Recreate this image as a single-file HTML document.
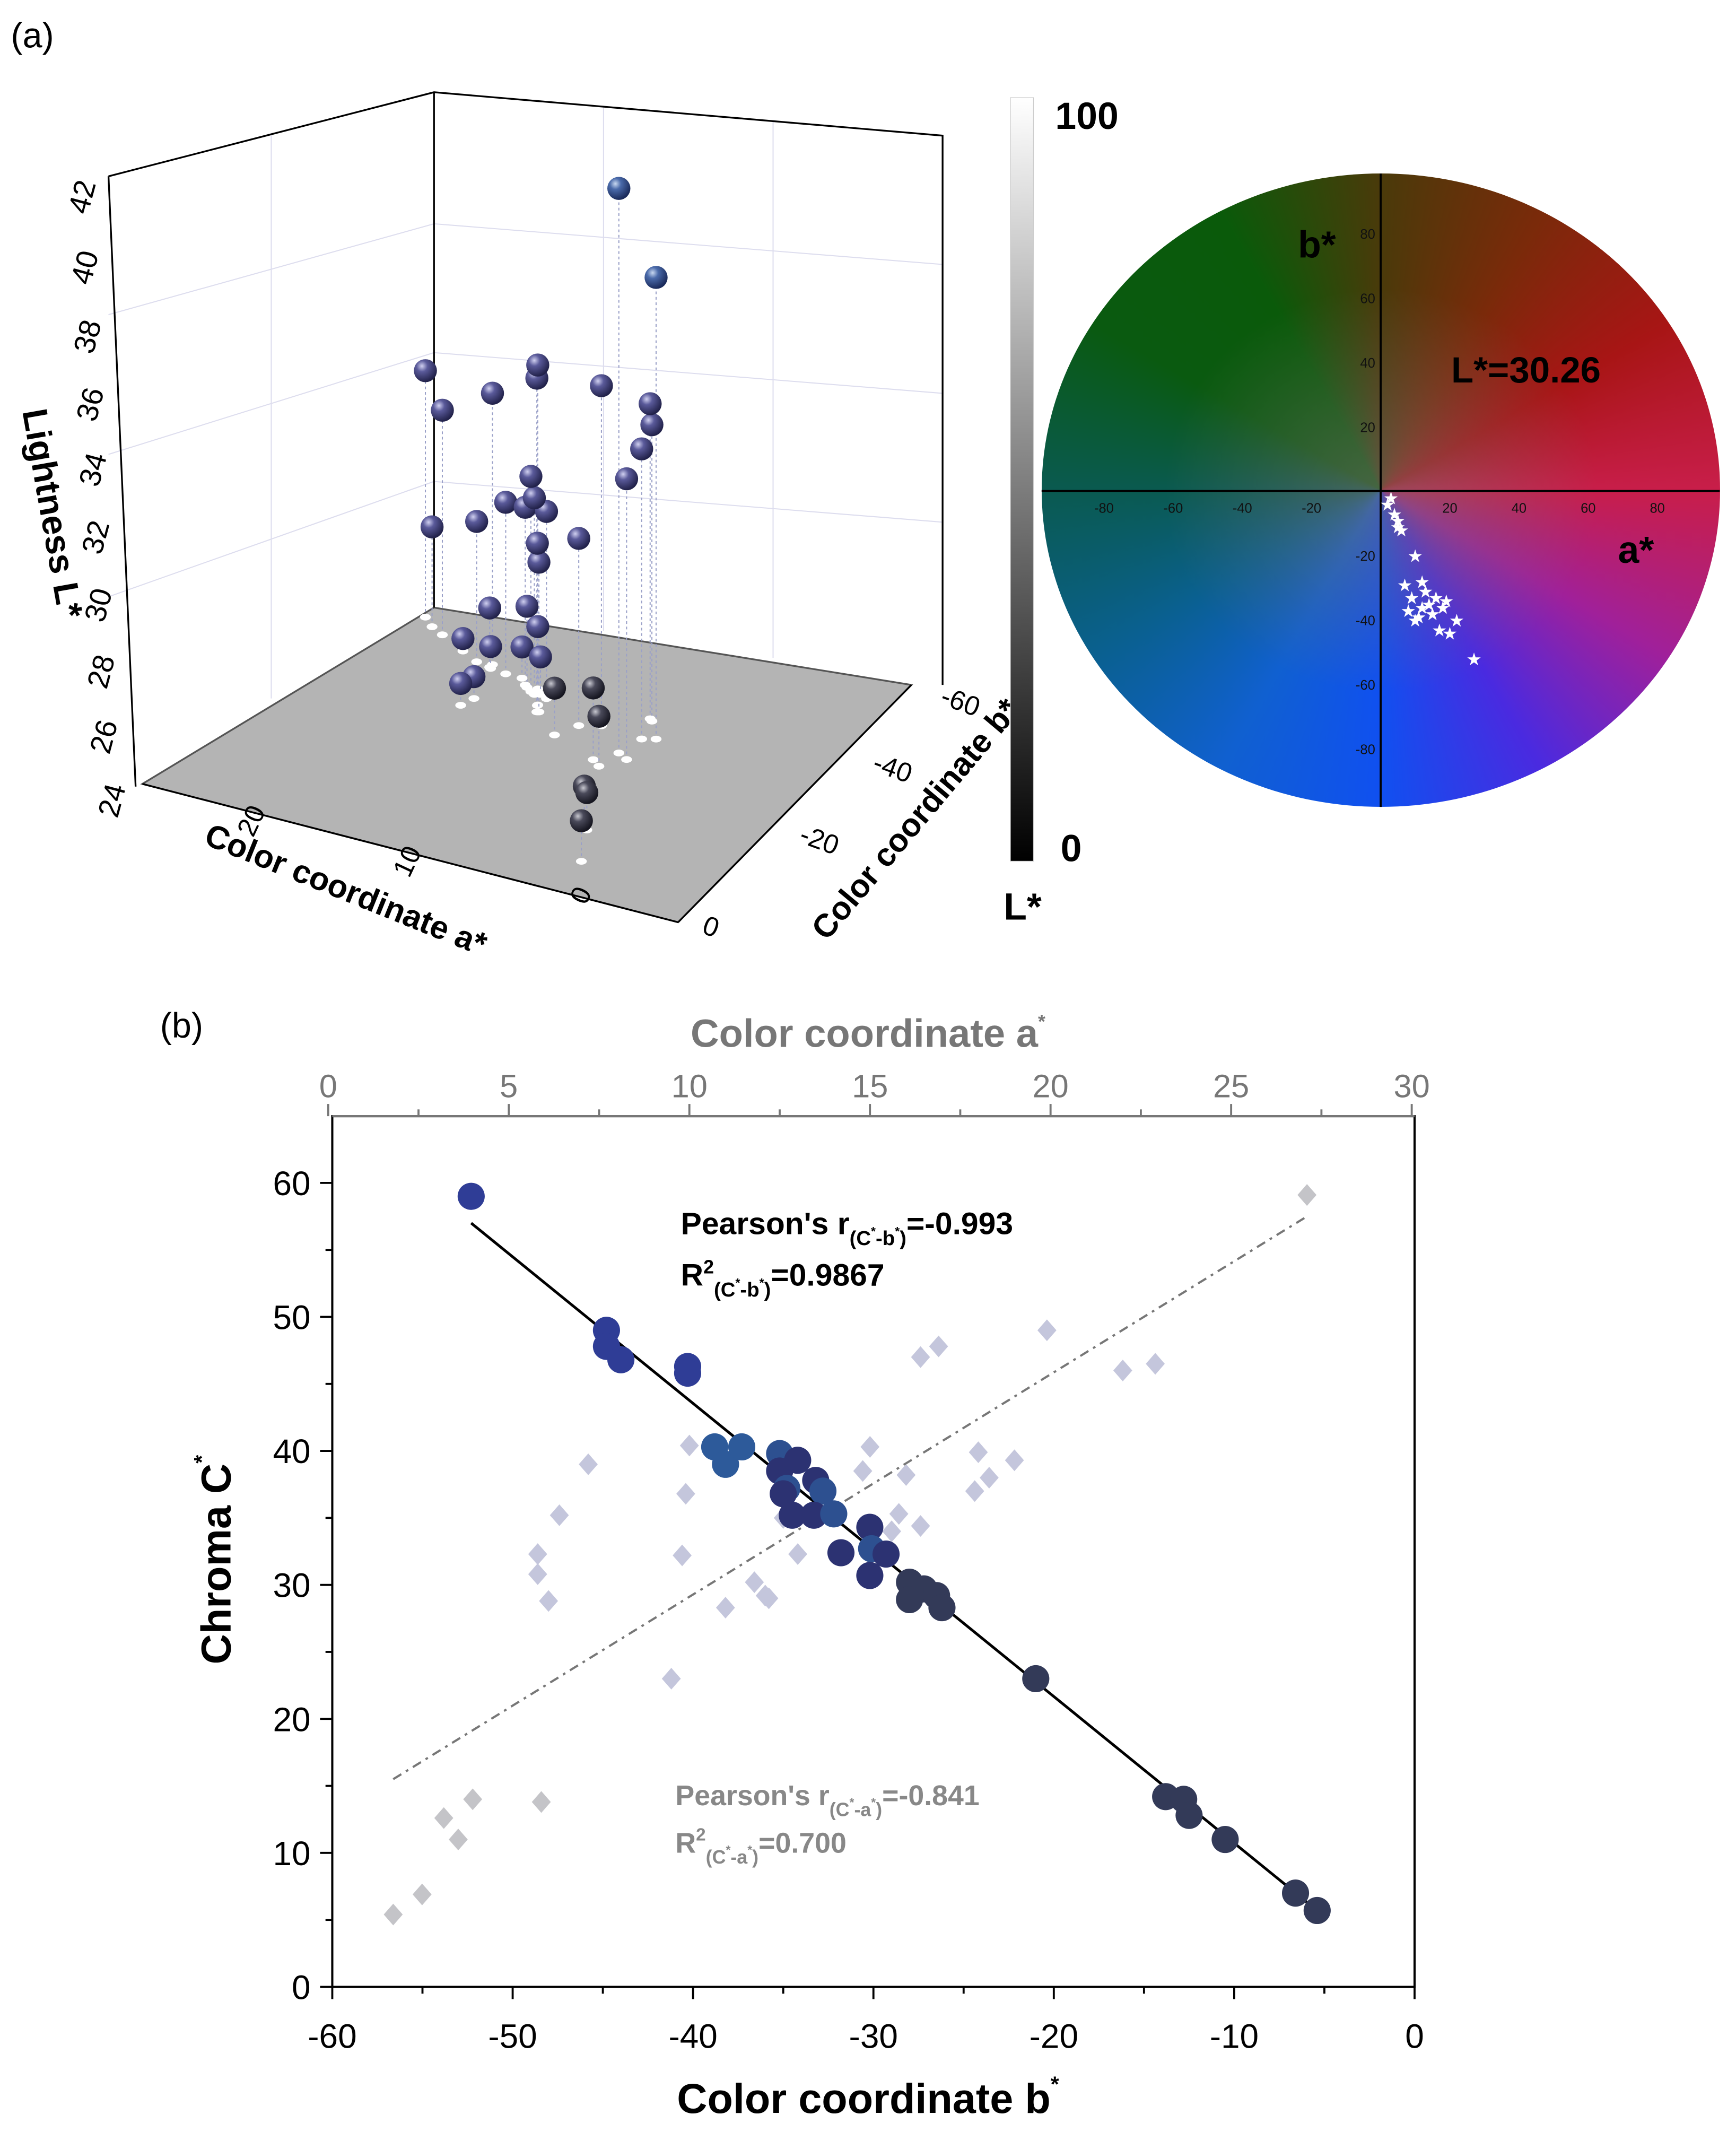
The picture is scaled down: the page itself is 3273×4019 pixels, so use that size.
<!DOCTYPE html>
<html><head><meta charset="utf-8">
<style>
html,body{margin:0;padding:0;background:#fff;}
#wrap{position:relative;width:3273px;height:4019px;overflow:hidden;font-family:"Liberation Sans",sans-serif;}
#wheel{position:absolute;left:1964px;top:327px;width:1279px;height:1194px;border-radius:50%;
background:radial-gradient(ellipse at center,rgba(120,110,110,0.55),rgba(120,110,110,0) 45%),
conic-gradient(from 0deg,#4a3a0a 0deg,#7a2a0a 30deg,#a81515 60deg,#c81e4a 90deg,#a0209a 120deg,#4a2ae0 150deg,#1050f0 180deg,#1060d0 210deg,#0a6090 240deg,#0a5a50 270deg,#0a5a10 300deg,#0a5a0a 330deg,#4a3a0a 360deg);}
svg{position:absolute;left:0;top:0;}
</style></head>
<body>
<div id="wrap">
<div id="wheel"></div>
<svg id="svg" width="3273" height="4019" viewBox="0 0 1280 1572" preserveAspectRatio="none" font-family="Liberation Sans, sans-serif">
<defs>
<radialGradient id="gBlue" cx="0.35" cy="0.3" r="0.7"><stop offset="0" stop-color="#c8d8f0"/><stop offset="0.35" stop-color="#4a6aaa"/><stop offset="1" stop-color="#1a2a5a"/></radialGradient>
<radialGradient id="gPurp" cx="0.35" cy="0.3" r="0.7"><stop offset="0" stop-color="#d0d0f0"/><stop offset="0.35" stop-color="#5a5a9a"/><stop offset="1" stop-color="#22224a"/></radialGradient>
<radialGradient id="gDark" cx="0.35" cy="0.3" r="0.7"><stop offset="0" stop-color="#c8c8d0"/><stop offset="0.35" stop-color="#4a4a5a"/><stop offset="1" stop-color="#15151f"/></radialGradient>
<linearGradient id="gBar" x1="0" y1="0" x2="0" y2="1"><stop offset="0" stop-color="#ffffff"/><stop offset="1" stop-color="#000000"/></linearGradient>
</defs>
<text x="8" y="35" font-size="26">(a)</text>
<text x="118" y="765" font-size="26">(b)</text>

<!-- 3D box -->
<g stroke="#000" stroke-width="1.3" fill="none">
<polygon points="105,578 320,448 672,505 500,680" fill="#b4b4b4" stroke="#555"/>
<g stroke="#dde" stroke-width="0.8">
<line x1="80" y1="232" x2="320" y2="165"/><line x1="80" y1="335" x2="320" y2="260"/><line x1="80" y1="440" x2="320" y2="355"/>
<line x1="320" y1="165" x2="695" y2="195"/><line x1="320" y1="260" x2="695" y2="290"/><line x1="320" y1="355" x2="695" y2="385"/>
<line x1="200" y1="98" x2="200" y2="515"/><line x1="445" y1="78" x2="445" y2="465"/><line x1="570" y1="89" x2="570" y2="485"/>
</g>
<polyline points="80,130 320,68 695,100 695,505"/>
<line x1="320" y1="68" x2="320" y2="448"/>
<line x1="80" y1="130" x2="100" y2="580"/>
<line x1="500" y1="680" x2="672" y2="505"/>
<line x1="105" y1="578" x2="500" y2="680"/>
</g>
<g font-size="22">
<text x="60" y="153" text-anchor="middle" transform="rotate(-75 60 145)">42</text>
<text x="62" y="205" text-anchor="middle" transform="rotate(-75 62 197)">40</text>
<text x="64" y="256" text-anchor="middle" transform="rotate(-75 64 248)">38</text>
<text x="66" y="306" text-anchor="middle" transform="rotate(-75 66 298)">36</text>
<text x="68" y="354" text-anchor="middle" transform="rotate(-75 68 346)">34</text>
<text x="70" y="404" text-anchor="middle" transform="rotate(-75 70 396)">32</text>
<text x="72" y="454" text-anchor="middle" transform="rotate(-75 72 446)">30</text>
<text x="74" y="503" text-anchor="middle" transform="rotate(-75 74 495)">28</text>
<text x="76" y="551" text-anchor="middle" transform="rotate(-75 76 543)">26</text>
<text x="82" y="598" text-anchor="middle" transform="rotate(-75 82 590)">24</text>
</g>
<text x="30" y="380" font-size="26" font-weight="bold" text-anchor="middle" transform="rotate(80 30 380)">Lightness L*</text>
<g font-size="20">
<text x="185" y="612" text-anchor="middle" transform="rotate(-65 185 605)">20</text>
<text x="300" y="642" text-anchor="middle" transform="rotate(-65 300 635)">10</text>
<text x="428" y="667" text-anchor="middle" transform="rotate(-65 428 660)">0</text>
</g>
<text x="255" y="664" font-size="24" font-weight="bold" text-anchor="middle" transform="rotate(22 255 656)">Color coordinate a*</text>
<g font-size="20">
<text x="708" y="524" text-anchor="middle" transform="rotate(20 708 518)">-60</text>
<text x="658" y="573" text-anchor="middle" transform="rotate(20 658 567)">-40</text>
<text x="604" y="626" text-anchor="middle" transform="rotate(20 604 620)">-20</text>
<text x="524" y="690" text-anchor="middle" transform="rotate(20 524 684)">0</text>
</g>
<text x="675" y="612" font-size="24" font-weight="bold" text-anchor="middle" transform="rotate(-50 675 604)">Color coordinate b*</text>
<g id="g3d"></g>

<!-- colorbar -->
<rect x="745" y="72" width="17" height="563" fill="url(#gBar)" stroke="#ccc" stroke-width="0.5"/>
<text x="778" y="95" font-size="28" font-weight="bold">100</text>
<text x="782" y="635" font-size="28" font-weight="bold">0</text>
<text x="740" y="678" font-size="28" font-weight="bold">L*</text>

<!-- wheel axes -->
<g>
<line x1="768" y1="362" x2="1268" y2="362" stroke="#000" stroke-width="1.5"/>
<line x1="1018" y1="128" x2="1018" y2="595" stroke="#000" stroke-width="1.5"/>
<g id="wheelTicks" font-size="10" fill="#111"></g>
<text x="957" y="190" font-size="28" font-weight="bold">b*</text>
<text x="1193" y="415" font-size="28" font-weight="bold">a*</text>
<text x="1070" y="282" font-size="27" font-weight="bold">L*=30.26</text>
<g id="stars" fill="#fff" font-size="13"></g>
</g>

<!-- panel b -->
<g id="pb">
<rect x="245" y="823" width="798" height="642" fill="none" stroke="#000" stroke-width="1.6"/>
<line x1="245" y1="823" x2="1043" y2="823" stroke="#777" stroke-width="1.6"/>
<g id="axes"></g>
<g id="marks"></g>
<text x="640" y="772" font-size="29" font-weight="bold" fill="#777" text-anchor="middle">Color coordinate a<tspan font-size="14" dy="-14">*</tspan></text>
<text x="640" y="1558" font-size="31" font-weight="bold" text-anchor="middle">Color coordinate b<tspan font-size="16" dy="-16">*</tspan></text>
<text x="170" y="1150" font-size="31" font-weight="bold" text-anchor="middle" transform="rotate(-90 170 1150)">Chroma C<tspan font-size="16" dy="-16">*</tspan></text>
<g font-weight="bold" font-size="23">
<text x="502" y="910">Pearson's r<tspan font-size="15" dy="8">(C</tspan><tspan font-size="9" dy="-7">*</tspan><tspan font-size="15" dy="7">-b</tspan><tspan font-size="9" dy="-7">*</tspan><tspan font-size="15" dy="7">)</tspan><tspan dy="-8">=-0.993</tspan></text>
<text x="502" y="948">R<tspan font-size="14" dy="-9">2</tspan><tspan font-size="15" dy="17">(C</tspan><tspan font-size="9" dy="-7">*</tspan><tspan font-size="15" dy="7">-b</tspan><tspan font-size="9" dy="-7">*</tspan><tspan font-size="15" dy="7">)</tspan><tspan dy="-8">=0.9867</tspan></text>
</g>
<g font-weight="bold" font-size="21" fill="#888">
<text x="498" y="1331">Pearson's r<tspan font-size="14" dy="8">(C</tspan><tspan font-size="9" dy="-7">*</tspan><tspan font-size="14" dy="7">-a</tspan><tspan font-size="9" dy="-7">*</tspan><tspan font-size="14" dy="7">)</tspan><tspan dy="-8">=-0.841</tspan></text>
<text x="498" y="1366">R<tspan font-size="13" dy="-9">2</tspan><tspan font-size="14" dy="17">(C</tspan><tspan font-size="9" dy="-7">*</tspan><tspan font-size="14" dy="7">-a</tspan><tspan font-size="9" dy="-7">*</tspan><tspan font-size="14" dy="7">)</tspan><tspan dy="-8">=0.700</tspan></text>
</g>
</g>
</svg>
</div>
<script>
// ---- panel b data ----
const bVals=[-52.3,-44.8,-44.8,-44,-40.3,-40.3,-38.8,-38.2,-37.3,-35.2,-34.2,-35.2,-34.8,-35,-33.2,-32.8,-34.5,-33.3,-32.2,-31.8,-30.2,-30.1,-29.3,-30.2,-28,-27.2,-26.5,-28,-26.2,-21,-13.8,-12.8,-12.5,-10.5,-6.6,-5.4];
const cVals=[59,49,47.8,46.8,46.3,45.8,40.3,39,40.3,39.8,39.3,38.5,37.2,36.8,37.8,37,35.2,35.2,35.3,32.4,34.3,32.7,32.3,30.7,30.2,29.7,29.2,28.9,28.3,23,14.2,14,12.8,11,7,5.7];
const aVals=[27.1,1.8,2.6,3.6,3.2,4.0,5.9,5.8,5.8,6.1,6.4,7.2,9.5,9.8,9.9,10.0,11.0,11.8,12.1,12.2,13.0,12.6,14.8,15.0,15.6,15.8,16.0,16.4,16.4,16.9,17.9,18.0,18.3,19.0,19.9,22.0,22.9];
const caVals=[59.1,5.4,6.9,11,12.6,14,13.8,32.3,30.8,28.8,35.2,39,23,32.2,36.8,40.4,28.3,30.2,29.2,29,32.3,35,38.5,40.3,34,35.3,38.2,34.4,47,47.8,37,39.9,38,39.3,49,46,46.5];
const fitB=[-52.3,-5.4], fitBC=[57,5.7];
const fitA=[1.8,27.1], fitAC=[15.5,57.5];
const bTicks=[-60,-50,-40,-30,-20,-10,0];
const aTicks=[0,5,10,15,20,25,30];
const cTicks=[0,10,20,30,40,50,60];
// ---- 3D data (a*, b*, L*) ----
const a3=[8.8,7.7,24.9,23.2,19.3,15.1,14.8,11.0,9.0,8.8,8.4,8.1,16.1,24.1,20.2,18.2,16.7,15.8,15.0,15.1,14.7,12.1,19.3,16.5,21.4,19.2,17.2,15.9,15.5,18.5,18.8,12.8,9.7,9.1,7.1,6.5,5.2];
const b3=[-32.6,-37.4,-51.7,-48.8,-45.0,-38.7,-37.2,-37.5,-41.4,-41.0,-36.7,-31.6,-41.2,-50.0,-44.8,-43.7,-42.3,-40.8,-40.5,-38.6,-37.3,-36.4,-44.3,-41.9,-46.4,-44.1,-43.6,-42.1,-41.1,-36.9,-34.8,-33.2,-29.9,-28.8,-16.6,-14.7,-7.8];
const L3=[42.1,38.8,31.9,31.2,32.7,34.9,34.7,34.9,34.1,33.5,33.3,33.0,30.9,27.2,28.5,29.5,29.7,30.3,30.0,29.2,28.8,30.0,25.9,26.6,24.4,24.7,25.0,26.0,25.2,24.7,24.7,25.5,26.3,25.6,25.1,25.2,25.3];
// ---- wheel data ----
const wheelTicks=[-80,-60,-40,-20,20,40,60,80];
const starA=[2,4,5,6,10,7,9,12,14,16,18,11,17,22,27,8,13,15,19,10,20,12,3,5];
const starB=[-4,-7,-11,-12,-20,-29,-33,-28,-35,-33,-36,-39,-43,-40,-52,-37,-31,-38,-34,-40,-44,-36,-2,-9];

const NS='http://www.w3.org/2000/svg';
function mk(tag,attrs,parent){const e=document.createElementNS(NS,tag);for(const k in attrs)e.setAttribute(k,attrs[k]);parent.appendChild(e);return e;}
const xb=b=>245+(b+60)*13.3, xa=a=>242+a*26.63, yC=c=>1465-c*9.88;
const axes=document.getElementById('axes'), marks=document.getElementById('marks');
for(let c=0;c<=60;c+=5){const major=c%10===0;
 const t=mk('line',{x1:245,x2:245-(major?9:5),y1:yC(c),y2:yC(c),stroke:'#000','stroke-width':1.5},axes);
 
 }
cTicks.forEach(c=>{const t=mk('text',{x:229,y:yC(c)+9,'font-size':25,'text-anchor':'end'},axes);t.textContent=c;
 
 });
for(let b=-60;b<=0;b+=5){const major=b%10===0;
 const t=mk('line',{x1:xb(b),x2:xb(b),y1:1465,y2:1465+(major?9:5),stroke:'#000','stroke-width':1.5},axes);
 
 }
bTicks.forEach(b=>{const t=mk('text',{x:xb(b),y:1510,'font-size':25,'text-anchor':'middle'},axes);t.textContent=b;
 
 });
for(let a=0;a<=30;a+=2.5){const major=a%5===0;
 const t=mk('line',{x1:xa(a),x2:xa(a),y1:823,y2:823-(major?9:5),stroke:'#777','stroke-width':1.5},axes);
 
 }
aTicks.forEach(a=>{const t=mk('text',{x:xa(a),y:809,'font-size':24,'text-anchor':'middle',fill:'#777'},axes);t.textContent=a;
 
 });
aVals.forEach((a,i)=>{const x=xa(a),y=yC(caVals[i]);
 const d=mk('polygon',{points:`${x},${y-8} ${x+7},${y} ${x},${y+8} ${x-7},${y}`,fill:i<7?'#c4c4c8':'#c4c6dc'},marks);
 
 });
const fa=mk('line',{x1:xa(fitA[0]),y1:yC(fitAC[0]),x2:xa(fitA[1]),y2:yC(fitAC[1]),stroke:'#777','stroke-width':1.6,'stroke-dasharray':'7,4,2,4'},marks);


const fb=mk('line',{x1:xb(fitB[0]),y1:yC(fitBC[0]),x2:xb(fitB[1]),y2:yC(fitBC[1]),stroke:'#000','stroke-width':2},marks);


bVals.forEach((b,i)=>{let col;
 if(cVals[i]>44)col='#2f3d96';else if(b<-35.5)col='#2d5a9a';else if(b<-29)col=(i%3===0?'#2d5090':'#2c3272');else col='#333a58';
 const c=mk('circle',{cx:xb(b),cy:yC(cVals[i]),r:10,fill:col},marks);
 
 });
const g3=document.getElementById('g3d');
const px=(a,b)=>470-12.3*a-2.9*b, py=(a,b)=>672-2.9*a+2.8*b, lz=23;
a3.forEach((a,i)=>{const x=px(a,b3[i]),fy=py(a,b3[i]);
 const ln=mk('line',{x1:x,y1:fy,x2:x,y2:fy-(L3[i]-24)*lz,stroke:'#9aa0c8','stroke-width':0.8,'stroke-dasharray':'2,2'},g3);
 
 
 const e=mk('ellipse',{cx:x,cy:fy,rx:4,ry:2.5,fill:'#fff'},g3);
 
 });
const order=a3.map((a,i)=>i).sort((p,q)=>(L3[p]-L3[q]));
order.forEach(i=>{const a=a3[i],x=px(a,b3[i]),y=py(a,b3[i])-(L3[i]-24)*lz;
 const f=L3[i]>37.5?'url(#gBlue)':((a<13.5&&L3[i]<27)?'url(#gDark)':'url(#gPurp)');
 const s=mk('circle',{cx:x,cy:y,r:8.5,fill:f},g3);
 
 });
const wt=document.getElementById('wheelTicks');
const wx=a=>1018+a*2.55, wy=b=>362-b*2.375;
wheelTicks.forEach(v=>{const t=mk('text',{x:wx(v),y:378,'text-anchor':'middle'},wt);t.textContent=v;
 
 
 const u=mk('text',{x:1014,y:wy(v)+4,'text-anchor':'end'},wt);u.textContent=v;
 
 });
const st=document.getElementById('stars');
starA.forEach((a,i)=>{const t=mk('text',{x:wx(a),y:wy(starB[i])+5,'text-anchor':'middle'},st);t.textContent='★';
 
 });
</script>
</body></html>
